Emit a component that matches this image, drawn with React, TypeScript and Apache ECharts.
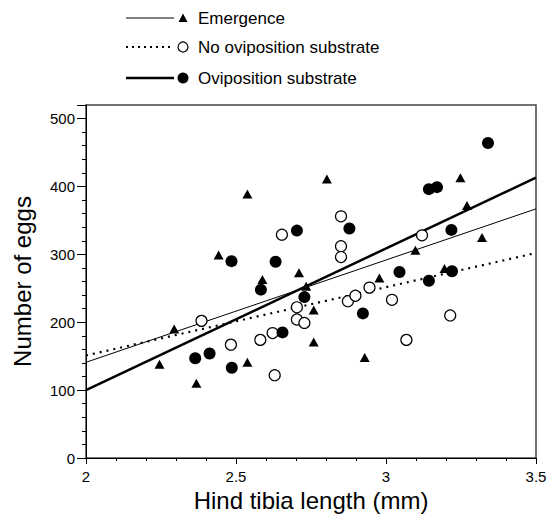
import React, { useEffect, useRef } from "react";
import * as echarts from "echarts";

const seriesNames = ["Emergence", "No oviposition substrate", "Oviposition substrate"];

const emergenceX = [2.245, 2.294, 2.368, 2.442, 2.538, 2.538, 2.588, 2.71, 2.734, 2.759, 2.759, 2.803, 2.929, 2.978, 3.098, 3.195, 3.248, 3.27, 3.32];
const emergenceY = [138, 190, 110, 299, 389, 141, 263, 273, 253, 218, 171, 411, 148, 265, 306, 279, 413, 372, 325];

const noSubstrateX = [2.385, 2.483, 2.581, 2.622, 2.629, 2.653, 2.703, 2.703, 2.728, 2.85, 2.85, 2.85, 2.873, 2.898, 2.945, 3.02, 3.068, 3.12, 3.214];
const noSubstrateY = [202, 167, 174, 184, 122, 329, 222, 204, 199, 356, 312, 296, 231, 239, 251, 233, 174, 328, 210];

const substrateX = [2.364, 2.412, 2.485, 2.486, 2.583, 2.632, 2.655, 2.703, 2.728, 2.878, 2.923, 3.045, 3.143, 3.17, 3.143, 3.218, 3.22, 3.34];
const substrateY = [147, 154, 290, 133, 248, 289, 185, 335, 237, 338, 213, 274, 396, 399, 261, 336, 275, 464];

const fitX = [2, 3.5];
const emergenceFit = [141, 367];
const noSubstrateFit = [151, 302];
const substrateFit = [100, 413];

const FONT = "'Liberation Sans', Arial, Helvetica, sans-serif";

const zip = (xs: number[], ys: number[]) => xs.map((x, i) => [x, ys[i]]);

export default function App() {
  const ref = useRef<HTMLDivElement>(null);
  useEffect(() => {
    const chart = echarts.init(ref.current!, null, { renderer: "svg" });
    const rowY = [18, 47, 78];
    const lx0 = 126;
    const lx1 = 174;
    const mx = 183;
    const tx = 198;
    const lineStyles = [
      { stroke: "#000", lineWidth: 1 },
      { stroke: "#000", lineWidth: 2, lineDash: [2, 4] },
      { stroke: "#000", lineWidth: 2.5 },
    ];
    const graphics: any[] = [];
    seriesNames.forEach((name, i) => {
      const y = rowY[i];
      graphics.push({
        type: "line",
        shape: { x1: lx0, y1: y, x2: lx1, y2: y },
        style: lineStyles[i],
      });
      if (i === 0) {
        graphics.push({
          type: "polygon",
          shape: { points: [[mx - 4.5, y + 4], [mx + 4.5, y + 4], [mx, y - 4.5]] },
          style: { fill: "#000" },
        });
      } else {
        graphics.push({
          type: "circle",
          shape: { cx: mx, cy: y, r: i === 1 ? 5 : 5.5 },
          style: i === 1 ? { fill: "#fff", stroke: "#000", lineWidth: 1.2 } : { fill: "#000" },
        });
      }
      graphics.push({
        type: "text",
        x: tx,
        y: y,
        style: { text: name, font: `17px ${FONT}`, fill: "#000", verticalAlign: "middle", textAlign: "left" },
      });
    });

    chart.setOption({
      animation: false,
      backgroundColor: "#fff",
      textStyle: { fontFamily: FONT },
      grid: {
        left: 86,
        right: 21,
        top: 105,
        bottom: 60,
        show: true,
        borderColor: "#444",
        borderWidth: 1.5,
        backgroundColor: "transparent",
      },
      graphic: graphics,
      xAxis: {
        type: "value",
        min: 2,
        max: 3.5,
        interval: 0.5,
        name: "Hind tibia length (mm)",
        nameLocation: "middle",
        nameGap: 30,
        nameTextStyle: { fontSize: 24, color: "#000", fontFamily: FONT },
        axisLine: { show: true, lineStyle: { color: "#000", width: 1 } },
        axisTick: { show: true, inside: false, length: 6, lineStyle: { color: "#000" } },
        minorTick: { show: true, splitNumber: 5, length: 3, lineStyle: { color: "#000" } },
        splitLine: { show: false },
        axisLabel: { fontSize: 15, color: "#000", margin: 11, fontFamily: FONT },
      },
      yAxis: {
        type: "value",
        min: 0,
        max: 520,
        interval: 100,
        name: "Number of eggs",
        nameLocation: "middle",
        nameGap: 52,
        nameTextStyle: { fontSize: 24, color: "#000", fontFamily: FONT },
        axisLine: { show: true, lineStyle: { color: "#000", width: 1 } },
        axisTick: { show: true, inside: false, length: 9, lineStyle: { color: "#000" } },
        minorTick: { show: true, splitNumber: 5, length: 4, lineStyle: { color: "#000" } },
        splitLine: { show: false },
        axisLabel: { fontSize: 15, color: "#000", margin: 11, showMaxLabel: false, fontFamily: FONT },
      },
      series: [
        {
          name: seriesNames[0] + " fit",
          type: "line",
          data: zip(fitX, emergenceFit),
          symbol: "none",
          lineStyle: { color: "#000", width: 1 },
          z: 1,
        },
        {
          name: seriesNames[1] + " fit",
          type: "line",
          data: zip(fitX, noSubstrateFit),
          symbol: "none",
          lineStyle: { color: "#000", width: 2.2, type: [2, 5] },
          z: 1,
        },
        {
          name: seriesNames[2] + " fit",
          type: "line",
          data: zip(fitX, substrateFit),
          symbol: "none",
          lineStyle: { color: "#000", width: 2.5 },
          z: 1,
        },
        {
          name: seriesNames[0],
          type: "scatter",
          data: zip(emergenceX, emergenceY),
          symbol: "triangle",
          symbolSize: [10, 9],
          itemStyle: { color: "#000", opacity: 1 },
          z: 3,
        },
        {
          name: seriesNames[1],
          type: "scatter",
          data: zip(noSubstrateX, noSubstrateY),
          symbol: "circle",
          symbolSize: 11,
          itemStyle: { color: "#fff", borderColor: "#000", borderWidth: 1.2, opacity: 1 },
          z: 3,
        },
        {
          name: seriesNames[2],
          type: "scatter",
          data: zip(substrateX, substrateY),
          symbol: "circle",
          symbolSize: 12,
          itemStyle: { color: "#000", opacity: 1 },
          z: 3,
        },
      ],
    });
    return () => chart.dispose();
  }, []);
  return <div ref={ref} style={{ position: "fixed", left: 0, top: 0, width: 557, height: 518 }} />;
}
